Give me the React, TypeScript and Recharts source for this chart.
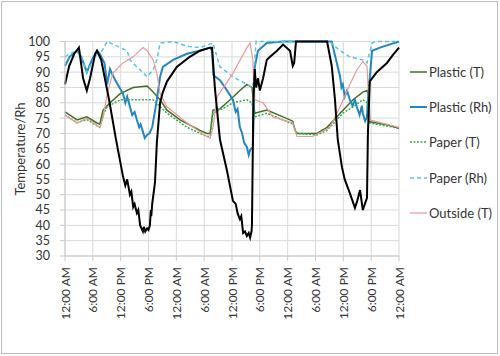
import React from 'react';
import { LineChart, Line, XAxis, YAxis, CartesianGrid, Legend } from 'recharts';

// hours since the first midnight -> value
const hourTicks = [0, 6, 12, 18, 24, 30, 36, 42, 48, 54, 60, 66, 72];
const timeLabels = [
  '12:00 AM', '6:00 AM', '12:00 PM', '6:00 PM',
  '12:00 AM', '6:00 AM', '12:00 PM', '6:00 PM',
  '12:00 AM', '6:00 AM', '12:00 PM', '6:00 PM', '12:00 AM',
];
const yTicks = [30, 35, 40, 45, 50, 55, 60, 65, 70, 75, 80, 85, 90, 95, 100];

const plasticT = [
  [0, 77], [2.6, 74.4], [4.7, 75.4], [6.9, 73.4], [7.5, 73], [8.2, 77.6], [9.7, 80], [11.9, 83],
  [14.7, 85], [17.7, 85.5], [19, 83.5], [20.5, 81], [22, 77.6], [24.8, 74.4], [29.1, 71], [30.6, 70],
  [31.3, 70], [31.9, 77.6], [33.4, 78], [35.6, 81], [37.7, 84], [39.2, 86], [40.3, 85], [40.9, 76.6],
  [43.5, 77.6], [47, 75.4], [49.1, 74], [49.6, 71], [50, 70], [54.3, 70], [56.5, 72], [59.3, 76.6],
  [62.1, 81], [64.2, 83.5], [65.1, 84], [65.5, 82], [65.7, 73.8], [69.4, 72.8], [72, 71.7],
];

const plasticRh = [
  [0, 92], [1, 95], [2.6, 97], [3.5, 95], [4.7, 90], [5.8, 94], [6.9, 97], [7.5, 96], [8.5, 93],
  [9.1, 86], [9.7, 91], [10.8, 87.4], [12.5, 83], [13, 80], [13.4, 82], [14, 78.7], [14.5, 76],
  [15, 77], [15.5, 74.4], [16, 72], [16.3, 73], [16.8, 70.5], [17.2, 68.5], [17.7, 69.5], [18.2, 70],
  [18.8, 72], [19.8, 81], [20.5, 88.5], [21.1, 91.7], [23.3, 94], [26.3, 96], [29, 97], [31.3, 98],
  [31.7, 97], [32, 89], [33.4, 87.4], [34.5, 85], [36.2, 81], [36.8, 77], [37.2, 78], [37.7, 72],
  [38.2, 70], [38.6, 67], [39.2, 65.6], [39.6, 63], [39.9, 64.6], [40.5, 65.6], [40.9, 91.7],
  [41.6, 97], [43.5, 99.5], [47, 100], [57.5, 100], [57.8, 98], [59.3, 88.5], [59.6, 85], [59.9, 86],
  [60.3, 82], [60.8, 84], [61.4, 81], [62, 79], [62.5, 81], [62.9, 78.7], [63.5, 76], [64, 79],
  [64.2, 76.6], [64.7, 74], [65.1, 75.4], [65.3, 81], [66.2, 97], [67.9, 98], [72, 100],
];

const paperT = [
  [0, 76], [2.6, 73.5], [4.7, 74.5], [6.9, 72.5], [7.5, 72], [8.2, 76], [9.1, 78.7], [11.9, 81],
  [14.7, 81], [19, 81], [20.5, 78.7], [22, 76.6], [26.3, 72], [30.6, 69], [31.3, 69], [31.9, 76.6],
  [34.5, 78.5], [36.2, 80], [39.2, 81], [40.3, 80], [40.9, 75.4], [43.5, 76.6], [47, 74.4], [49.1, 73],
  [50, 70], [54.3, 69.5], [56.5, 71], [59.9, 76.6], [62.1, 78.7], [64.2, 81], [65.1, 80], [65.7, 73.4],
  [72, 71.7],
];

const paperRh = [
  [0, 95], [1, 96], [2.6, 97], [3.5, 95], [4.7, 90], [5.8, 93], [6.9, 96], [8, 97], [9.1, 100],
  [11.2, 98.5], [13.4, 97], [14, 94], [16.2, 90.7], [17.7, 88.5], [19, 90.7], [19.8, 94], [20.5, 99.5],
  [23.3, 100], [26.3, 98.5], [29.1, 98], [31.9, 99.5], [33.4, 91.7], [36.2, 88.5], [39.2, 86],
  [40.5, 85], [41.2, 100], [57, 100], [59.3, 97], [61.4, 95], [64.2, 94], [65.1, 93], [66.2, 99.5],
  [67, 100], [72, 100],
];

const outsideT = [
  [0, 76], [2.6, 73.4], [4.7, 75], [7.5, 72], [8.2, 75], [9.1, 83], [10.3, 89.6], [12.5, 93],
  [14.7, 95], [16.8, 98], [17.7, 97], [19, 94], [19.8, 89.6], [20.5, 83], [22, 78.7], [26.3, 73.4],
  [30.6, 69], [31.3, 68.5], [31.9, 72], [32.8, 82], [36.2, 89.6], [39.2, 98], [39.9, 99.5], [40.5, 94],
  [40.9, 81], [42.7, 80], [44.8, 75.4], [49.1, 73.4], [50, 69], [53.4, 69], [57.1, 72], [59.3, 78.7],
  [61.4, 86], [62.9, 90.7], [64.2, 93.4], [65.1, 92], [65.7, 74.4], [72, 72],
];

// unlabelled black series
const blackSeries = [
  [0, 86], [0.9, 92], [2, 96], [3, 98], [3.9, 88], [4.7, 84], [5.4, 88], [6.5, 96], [6.9, 97],
  [7.8, 94], [9.5, 81], [11, 68], [12.5, 56], [13, 53], [13.4, 55], [14, 50], [14.3, 51], [14.7, 46],
  [15, 47], [15.5, 44], [15.8, 45], [16.2, 40], [16.8, 38], [17, 39.5], [17.3, 38], [17.7, 39],
  [18, 38.5], [18.3, 40], [18.5, 45], [18.6, 43], [18.8, 47], [19.4, 54], [19.8, 67], [20.5, 80],
  [21.1, 83.5], [22, 87], [24.1, 91.7], [26.9, 95], [29.1, 97], [31.3, 98], [31.7, 98], [32.3, 85],
  [33.4, 68], [34.9, 58], [36.2, 48], [36.8, 47], [37.2, 44], [37.7, 42], [38, 43], [38.4, 37.5],
  [38.8, 38], [39.2, 36.5], [39.6, 37.5], [39.9, 36], [40.2, 38], [40.3, 40], [40.6, 80], [40.9, 91],
  [41.2, 85], [41.6, 88], [42, 84], [42.7, 88], [43.5, 94], [44.2, 95], [45.7, 97], [47, 99],
  [48.5, 97], [49.1, 92], [49.4, 93], [49.8, 100], [56.5, 100], [57.5, 92], [58.2, 81], [58.8, 68],
  [59.7, 59], [60.3, 55], [61.4, 50.5], [62.5, 45.7], [63, 48], [63.6, 51.5], [64.2, 45], [65.1, 49],
  [65.3, 70], [65.7, 87], [67.2, 90], [69.4, 93], [70.7, 95.6], [72, 98],
];

const toPoints = (pts: number[][]) => pts.map(([h, v]) => ({ h, v }));

const series = [
  { name: 'Plastic (T)', pts: plasticT, color: '#436f22', width: 1.5, dash: undefined },
  { name: 'Plastic (Rh)', pts: plasticRh, color: '#2486c0', width: 2, dash: undefined },
  { name: 'Paper (T)', pts: paperT, color: '#36a852', width: 1.5, dash: '2 1.5' },
  { name: 'Paper (Rh)', pts: paperRh, color: '#52c6e2', width: 1.5, dash: '4 3' },
  { name: 'Outside (T)', pts: outsideT, color: '#e99a9a', width: 1.2, dash: undefined },
];

const XTick = (props: any) => {
  const { x, y, payload } = props;
  const i = hourTicks.indexOf(payload.value);
  return (
    <g transform={`translate(${x},${y})`}>
      <text transform="rotate(-90)" textAnchor="end" dominantBaseline="central" fontSize={12} fill="#333">
        {timeLabels[i]}
      </text>
    </g>
  );
};

const renderLegend = () => (
  <div style={{ fontSize: 13, color: '#333' }}>
    {series.map((s) => (
      <div key={s.name} style={{ height: 35.4, display: 'flex', alignItems: 'center' }}>
        <svg width={18} height={10} style={{ marginRight: 1 }}>
          <line x1={0} y1={5} x2={17} y2={5} stroke={s.color} strokeWidth={s.width} strokeDasharray={s.dash} />
        </svg>
        <span>{s.name}</span>
      </div>
    ))}
  </div>
);

export default function App() {
  return (
    <div style={{ position: 'relative', width: 500, height: 356, fontFamily: 'Lato, sans-serif', background: '#fff' }}>
      <style>{`body{margin:0}`}</style>
      <div style={{ position: 'absolute', left: 1, top: 1, width: 495, height: 351, border: '1px solid #bdbdbd' }} />
      {/* the vertical legend's width (90) is added to the right margin by recharts */}
      <LineChart width={500} height={356} margin={{ top: 41.5, right: 11, left: 0, bottom: 0 }}>
        <CartesianGrid stroke="#d9d9d9" />
        <XAxis
          dataKey="h"
          type="number"
          domain={[0, 72]}
          ticks={hourTicks}
          interval={0}
          height={100}
          tick={<XTick />}
          tickSize={5}
          tickMargin={6}
          stroke="#c8c8c8"
        />
        <YAxis
          type="number"
          domain={[30, 100]}
          ticks={yTicks}
          interval={0}
          width={65}
          tickSize={5}
          tickMargin={10}
          stroke="#c8c8c8"
          tick={{ fontSize: 12.5, fill: '#333' }}
          label={() => (
            <text x={20} y={149} transform="rotate(-90 20 149)" textAnchor="middle" dominantBaseline="central" fontSize={13} fill="#333">
              Temperature/Rh
            </text>
          )}
        />
        <Legend
          layout="vertical"
          align="right"
          verticalAlign="top"
          content={renderLegend}
          wrapperStyle={{ left: 410, top: 54, width: 90 }}
        />
        {series.map((s) => (
          <Line
            key={s.name}
            data={toPoints(s.pts)}
            dataKey="v"
            name={s.name}
            type="linear"
            stroke={s.color}
            strokeWidth={s.width}
            strokeDasharray={s.dash}
            dot={false}
            isAnimationActive={false}
          />
        ))}
        <Line
          data={toPoints(blackSeries)}
          dataKey="v"
          name="black"
          legendType="none"
          type="linear"
          stroke="#000"
          strokeWidth={2}
          dot={false}
          isAnimationActive={false}
        />
      </LineChart>
    </div>
  );
}
